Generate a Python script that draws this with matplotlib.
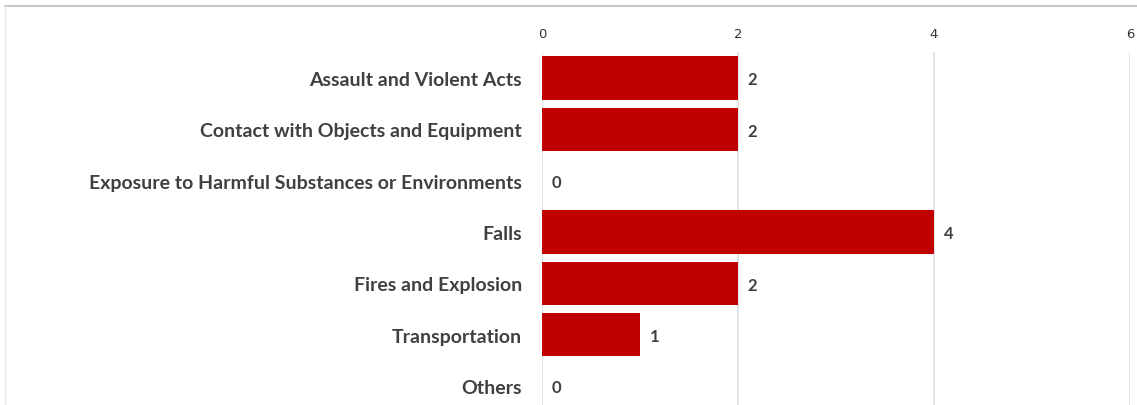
import matplotlib
matplotlib.use("Agg")
import matplotlib.pyplot as plt
from matplotlib.lines import Line2D

categories = [
    "Assault and Violent Acts",
    "Contact with Objects and Equipment",
    "Exposure to Harmful Substances or Environments",
    "Falls",
    "Fires and Explosion",
    "Transportation",
    "Others",
]
counts = [2, 2, 0, 4, 2, 1, 0]
x_ticks = [0, 2, 4, 6]

W, H = 1137, 406
fig = plt.figure(figsize=(W / 100, H / 100), dpi=100)
top_px, bot_px = 53.3, 412.7
ax = fig.add_axes([542 / W, 1 - bot_px / H, (1130 - 542) / W, (bot_px - top_px) / H])

bar_color = "#c00000"
text_color = "#404040"
grid_color = "#e3e3e3"

ypos = list(range(len(categories)))
ax.barh(ypos, counts, height=0.84, color=bar_color, zorder=2)

ax.set_xlim(0, 6)
ax.set_ylim(len(categories) - 0.5, -0.5)
ax.set_xticks(x_ticks)
ax.set_xticklabels([str(t) for t in x_ticks])
ax.xaxis.tick_top()
ax.tick_params(axis="x", length=0, pad=9, labelsize=9.5, labelcolor="#333333")
ax.set_yticks(ypos)
ax.set_yticklabels(categories, fontfamily="Lato", fontweight="bold", fontsize=14, color=text_color)
ax.tick_params(axis="y", length=0, pad=14.5)

ax.grid(axis="x", color=grid_color, linewidth=1.3, zorder=0)
for s in ax.spines.values():
    s.set_visible(False)

for y, v in zip(ypos, counts):
    ax.annotate(str(v), (v, y), xytext=(7, -1), textcoords="offset points",
                va="center", ha="left", fontfamily="Lato", fontweight="bold",
                fontsize=12, color=text_color)

# chart border
fig.add_artist(Line2D([5 / W, 1], [1 - 7 / H, 1 - 7 / H], transform=fig.transFigure,
                      color="#c8c8c8", linewidth=1.5))
fig.add_artist(Line2D([5 / W, 5 / W], [0, 1 - 7 / H], transform=fig.transFigure,
                      color="#ececec", linewidth=1.0))

fig.savefig("out.png", dpi=100)
